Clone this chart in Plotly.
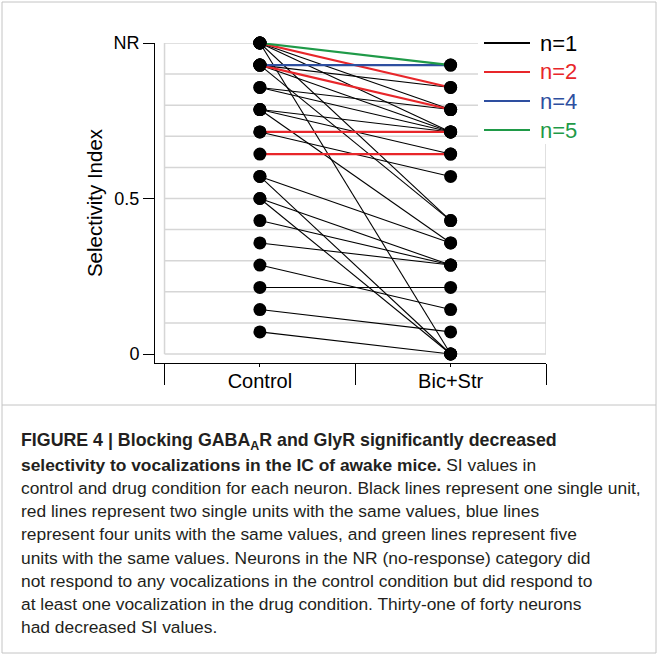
import plotly.graph_objects as go

# Conditions on the x axis
conditions = ["Control", "Bic+Str"]

# One row per line: SI in control, SI with Bic+Str, number of units sharing those values
control_si = [1.0, 0.929, 1.0, 0.929, 0.714, 0.643,
              1.0, 1.0, 1.0, 1.0,
              0.929, 0.929, 0.929,
              0.857, 0.857,
              0.786, 0.786, 0.786,
              0.714,
              0.571, 0.571,
              0.5, 0.5,
              0.429, 0.357, 0.286, 0.214, 0.143, 0.071]
drug_si = [0.929, 0.929, 0.857, 0.786, 0.714, 0.643,
           0.786, 0.714, 0.429, 0.0,
           0.857, 0.714, 0.429,
           0.786, 0.714,
           0.714, 0.643, 0.357,
           0.571,
           0.357, 0.0,
           0.286, 0.0,
           0.286, 0.286, 0.143, 0.214, 0.071, 0.0]
units = [5, 4, 2, 2, 2, 2] + [1] * 23

# Legend groups: units per line -> colour
group_n = [1, 2, 4, 5]
group_color = ["#000000", "#e8262a", "#2e4fa0", "#1f9a48"]
group_width = [1.1, 2.2, 2.2, 2.2]

# Y axis ticks
y_tickvals = [0, 0.5, 1.0]
y_ticktext = ["0", "0.5", "NR"]

caption_lines = [
    "<b>FIGURE 4 | Blocking GABA<sub>A</sub>R and GlyR significantly decreased</b>",
    "<b>selectivity to vocalizations in the IC of awake mice.</b> SI values in",
    "control and drug condition for each neuron. Black lines represent one single unit,",
    "red lines represent two single units with the same values, blue lines",
    "represent four units with the same values, and green lines represent five",
    "units with the same values. Neurons in the NR (no-response) category did",
    "not respond to any vocalizations in the control condition but did respond to",
    "at least one vocalization in the drug condition. Thirty-one of forty neurons",
    "had decreased SI values.",
]

W, H = 660, 660
L, R, T, B = 155, 546, 43, 363          # plot area in pixels
FONT = "Liberation Sans, Arial, sans-serif"


def px_x(x):
    return (x - L) / (R - L)


def px_y(y):
    return (B - y) / (B - T)


fig = go.Figure()

for n, col, w in zip(group_n, group_color, group_width):
    xs, ys = [], []
    for c, d, u in zip(control_si, drug_si, units):
        if u == n:
            xs += [0, 1, None]
            ys += [c, d, None]
    fig.add_trace(go.Scatter(
        x=xs, y=ys, mode="lines",
        line=dict(color=col, width=w),
        name=f"n={n}", showlegend=False,
        hoverinfo="skip",
    ))

# Neuron markers at both ends of every line
fig.add_trace(go.Scatter(
    x=[0] * len(control_si) + [1] * len(drug_si),
    y=control_si + drug_si,
    mode="markers",
    marker=dict(color="black", size=13),
    cliponaxis=False,
    showlegend=False,
    hoverinfo="skip",
))

shapes = []
# light grey grid every 0.1 and frame around the data region
for i in range(11):
    shapes.append(dict(type="line", xref="x", yref="y", x0=-0.5, x1=1.5,
                       y0=i / 10, y1=i / 10, layer="below",
                       line=dict(color="#d6d6d6", width=1.5)))
for xv in (-0.5, 1.5):
    shapes.append(dict(type="line", xref="x", yref="y", x0=xv, x1=xv,
                       y0=0, y1=1.0, layer="below",
                       line=dict(color="#d6d6d6", width=1.5)))
# figure border and caption separator
shapes.append(dict(type="rect", xref="paper", yref="paper",
                   x0=px_x(2), x1=px_x(656), y0=px_y(2), y1=px_y(653),
                   line=dict(color="#c4c4c4", width=1)))
shapes.append(dict(type="line", xref="paper", yref="paper",
                   x0=px_x(2), x1=px_x(656), y0=px_y(405), y1=px_y(405),
                   line=dict(color="#c4c4c4", width=1)))

# key: white panel over the grid, a line sample and a coloured label per group
shapes.append(dict(type="rect", xref="paper", yref="paper", layer="above",
                   x0=px_x(478), x1=px_x(600), y0=px_y(144), y1=px_y(28),
                   fillcolor="white", line=dict(width=0)))
annotations = []
key_y = [43, 72, 101, 130]
for n, col, yy in zip(group_n, group_color, key_y):
    shapes.append(dict(type="line", xref="paper", yref="paper", layer="above",
                       x0=px_x(484), x1=px_x(530), y0=px_y(yy), y1=px_y(yy),
                       line=dict(color=col, width=2)))
    annotations.append(dict(
        text=f"n={n}", xref="paper", yref="paper", x=px_x(538), y=px_y(yy),
        xanchor="left", yanchor="middle", showarrow=False,
        font=dict(family=FONT, size=22, color=col),
    ))

line_y = [441, 465, 488, 511, 534, 558, 581, 604, 627]
for k, (txt, yy) in enumerate(zip(caption_lines, line_y)):
    annotations.append(dict(
        text=txt, xref="paper", yref="paper", x=px_x(19), y=px_y(yy),
        xanchor="left", yanchor="middle", showarrow=False, align="left",
        font=dict(family=FONT, size=17.8 if k == 0 else 17.4, color="#231f20"),
    ))

fig.update_layout(
    width=W, height=H,
    margin=dict(l=L, r=W - R, t=T, b=H - B, pad=0),
    paper_bgcolor="white", plot_bgcolor="white",
    font=dict(family=FONT, color="black"),
    shapes=shapes,
    annotations=annotations,
    showlegend=False,
    xaxis=dict(
        range=[-0.55, 1.5], showgrid=False, zeroline=False,
        showline=True, linecolor="black", linewidth=1,
        tickmode="array", tickvals=[0, 1], ticktext=conditions,
        ticks="outside", ticklen=3, tickcolor="black", tickwidth=1,
        ticklabelstandoff=-3,
        tickfont=dict(family=FONT, size=20, color="black"),
        minor=dict(tickmode="array", tickvals=[-0.5, 0.5, 1.5],
                   ticks="outside", ticklen=21, tickcolor="black", tickwidth=1,
                   showgrid=False),
        fixedrange=True,
    ),
    yaxis=dict(
        range=[-9 / 311, 1.0], showgrid=False, zeroline=False,
        showline=True, linecolor="black", linewidth=1,
        tickmode="array", tickvals=y_tickvals, ticktext=y_ticktext,
        ticks="outside", ticklen=11, tickcolor="black", tickwidth=1,
        tickfont=dict(family=FONT, size=18, color="black"),
        title=dict(text="Selectivity Index", standoff=5,
                   font=dict(family=FONT, size=20.5, color="black")),
        fixedrange=True,
    ),
)

fig.write_html("out.html")
